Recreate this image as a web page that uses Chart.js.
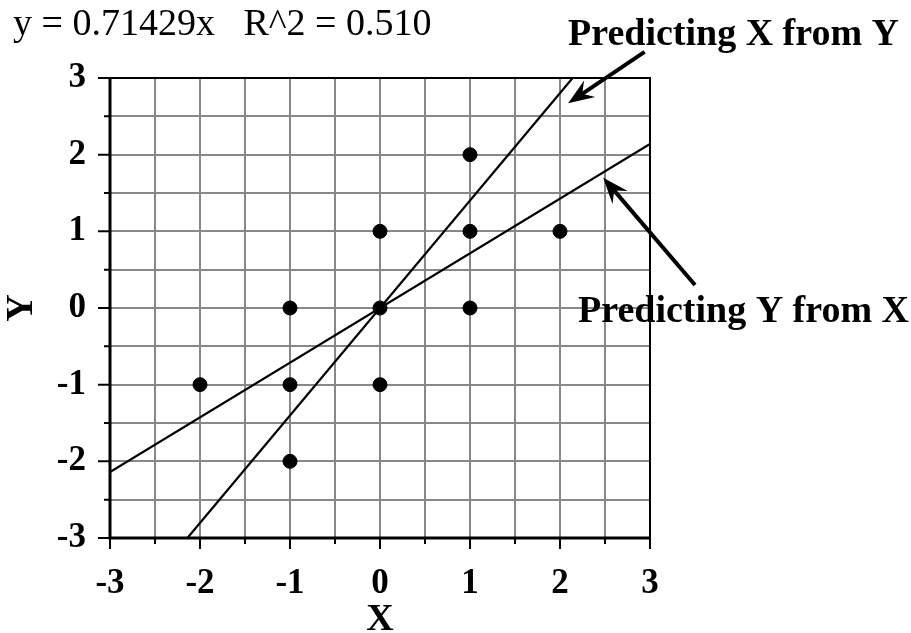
<!DOCTYPE html>
<html>
<head>
<meta charset="utf-8">
<script src="https://cdn.jsdelivr.net/npm/chart.js@4.4.0/dist/chart.umd.min.js"></script>
<style>
  html, body { margin: 0; padding: 0; background: #fff; }
</style>
</head>
<body>
<canvas id="regChart" width="911" height="633"></canvas>
<script>
// Data points
let xVals = [-2, -1, -1, -1, 0, 0, 0, 1, 1, 1, 2];
let yVals = [-1, 0, -1, -2, 1, 0, -1, 2, 1, 0, 1];

// Regression lines (end points)
let yFromXLineX = [-3, 3];
let yFromXLineY = [-2.14, 2.14];
let xFromYLineX = [-2.14, 2.14];
let xFromYLineY = [-3, 3];

// Axis range / ticks
let axisMin = -3;
let axisMax = 3;
let tickStep = 0.5;

// Texts
let equationText = "y = 0.71429x   R^2 = 0.510";
let labelXfromY = "Predicting X from Y";
let labelYfromX = "Predicting Y from X";

// Arrows in data units: [tailX, tailY, tipX, tipY]
let arrowXfromY = [2.94, 3.34, 2.09, 2.67];
let arrowYfromX = [3.5, 0.30, 2.48, 1.70];

let points = xVals.map((x, i) => ({ x: x, y: yVals[i] }));
let lineA = yFromXLineX.map((x, i) => ({ x: x, y: yFromXLineY[i] }));
let lineB = xFromYLineX.map((x, i) => ({ x: x, y: xFromYLineY[i] }));

const serif = "'Liberation Serif', 'Times New Roman', serif";

function drawArrow(ctx, x1, y1, x2, y2) {
  let ang = Math.atan2(y2 - y1, x2 - x1);
  let len = 26, half = 10, notch = 17;
  ctx.save();
  ctx.strokeStyle = "#000";
  ctx.fillStyle = "#000";
  ctx.lineWidth = 4;
  ctx.beginPath();
  ctx.moveTo(x1, y1);
  ctx.lineTo(x2 - Math.cos(ang) * notch, y2 - Math.sin(ang) * notch);
  ctx.stroke();
  ctx.translate(x2, y2);
  ctx.rotate(ang);
  ctx.beginPath();
  ctx.moveTo(0, 0);
  ctx.lineTo(-len, -half);
  ctx.lineTo(-notch, 0);
  ctx.lineTo(-len, half);
  ctx.closePath();
  ctx.fill();
  ctx.restore();
}

// Frame, tick marks, arrows and annotation texts
const extras = {
  id: "extras",
  afterDraw(chart) {
    let ctx = chart.ctx;
    let a = chart.chartArea;
    let sx = chart.scales.x, sy = chart.scales.y;
    ctx.save();
    // tick marks
    ctx.strokeStyle = "#000";
    ctx.lineWidth = 2;
    for (let v = axisMin; v <= axisMax + 1e-9; v += tickStep) {
      let major = Math.abs(v - Math.round(v)) < 1e-9;
      let px = sx.getPixelForValue(v);
      let py = sy.getPixelForValue(v);
      ctx.beginPath();
      ctx.moveTo(px, a.bottom);
      ctx.lineTo(px, a.bottom + (major ? 11 : 6));
      ctx.moveTo(a.left, py);
      ctx.lineTo(a.left - (major ? 12 : 6), py);
      ctx.stroke();
    }
    // frame
    ctx.lineWidth = 2;
    ctx.beginPath();
    ctx.moveTo(a.left, a.top);
    ctx.lineTo(a.right, a.top);
    ctx.lineTo(a.right, a.bottom);
    ctx.stroke();
    ctx.lineWidth = 3;
    ctx.beginPath();
    ctx.moveTo(a.left, a.top);
    ctx.lineTo(a.left, a.bottom);
    ctx.lineTo(a.right, a.bottom);
    ctx.stroke();

    // arrows
    drawArrow(ctx, sx.getPixelForValue(arrowXfromY[0]), sy.getPixelForValue(arrowXfromY[1]),
      sx.getPixelForValue(arrowXfromY[2]), sy.getPixelForValue(arrowXfromY[3]));
    drawArrow(ctx, sx.getPixelForValue(arrowYfromX[0]), sy.getPixelForValue(arrowYfromX[1]),
      sx.getPixelForValue(arrowYfromX[2]), sy.getPixelForValue(arrowYfromX[3]));

    // texts
    ctx.fillStyle = "#000";
    ctx.textAlign = "left";
    ctx.textBaseline = "alphabetic";
    ctx.font = "38px " + serif;
    ctx.fillText(equationText, 13, 35);
    ctx.font = "bold 38px " + serif;
    ctx.fillText(labelXfromY, 568, 45);
    ctx.fillText(labelYfromX, 578, 322);
    ctx.restore();
  }
};

const tickFont = { family: serif, size: 35, weight: "bold" };
const titleFont = { family: serif, size: 38, weight: "bold", lineHeight: 1 };

new Chart(document.getElementById("regChart"), {
  type: "scatter",
  data: {
    datasets: [
      {
        data: points,
        pointRadius: 7,
        pointHoverRadius: 7,
        backgroundColor: "#000",
        borderColor: "#000",
        showLine: false,
      },
      {
        data: lineA,
        showLine: true,
        borderColor: "#000",
        borderWidth: 2.2,
        pointRadius: 0,
      },
      {
        data: lineB,
        showLine: true,
        borderColor: "#000",
        borderWidth: 2.2,
        pointRadius: 0,
      },
    ],
  },
  options: {
    responsive: false,
    animation: false,
    events: [],
    layout: { padding: { left: 0, top: 78, right: 261, bottom: 0 } },
    plugins: { legend: { display: false }, tooltip: { enabled: false } },
    scales: {
      x: {
        min: axisMin,
        max: axisMax,
        afterFit(scale) { scale.height = 95; },
        afterBuildTicks(scale) {
          scale.ticks = [];
          for (let v = axisMin; v <= axisMax + 1e-9; v += tickStep) scale.ticks.push({ value: v });
        },
        ticks: {
          autoSkip: false,
          maxRotation: 0,
          color: "#000",
          font: tickFont,
          padding: 25,
          callback: (v) => (Number.isInteger(v) ? v : ""),
        },
        grid: { color: "#888", lineWidth: 2, drawTicks: false },
        border: { display: false },
        title: { display: true, text: "X", color: "#000", font: titleFont, padding: { top: 0, bottom: -6 } },
      },
      y: {
        min: axisMin,
        max: axisMax,
        afterFit(scale) { scale.width = 110; },
        afterBuildTicks(scale) {
          scale.ticks = [];
          for (let v = axisMin; v <= axisMax + 1e-9; v += tickStep) scale.ticks.push({ value: v });
        },
        ticks: {
          autoSkip: false,
          color: "#000",
          font: tickFont,
          padding: 24,
          callback: (v) => (Number.isInteger(v) ? v : ""),
        },
        grid: { color: "#888", lineWidth: 2, drawTicks: false },
        border: { display: false },
        title: { display: true, text: "Y", color: "#000", font: titleFont, padding: { top: 3, bottom: 0 } },
      },
    },
  },
  plugins: [extras],
});
</script>
</body>
</html>
